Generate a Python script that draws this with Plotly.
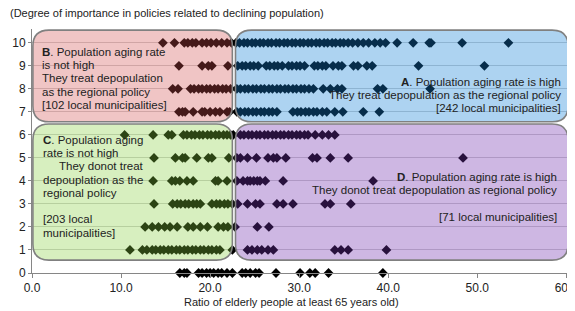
import plotly.graph_objects as go

# ---- data: x values (ratio of elderly, %) for each importance level 0..10 ----
row0 = [16.6, 17.1, 17.4, 18.7, 19.1, 19.6, 20.0, 20.4, 20.9, 21.3, 21.9, 22.5,
        23.6, 24.0, 24.5, 25.1, 25.5, 27.4, 30.1, 31.2, 31.8, 33.3, 39.4]
row1 = [11.0, 12.4, 12.9, 13.5, 13.9, 14.4, 14.8, 15.3, 15.7, 16.2, 16.6, 17.1, 17.5,
        18.0, 18.4, 18.9, 19.3, 19.8, 20.2, 20.7, 21.1, 22.5,
        24.2, 24.7, 25.3, 25.8, 26.5, 27.1, 34.0, 34.7, 35.5, 39.8]
row2 = [12.7, 13.5, 14.2, 14.9, 15.5, 16.3, 17.5, 18.1, 18.9, 19.7, 20.9, 21.5, 22.0,
        22.8, 25.3, 26.6]
row3 = [13.7, 15.8, 16.3, 16.7, 17.2, 17.6, 18.1, 18.5, 18.9, 20.2, 20.7, 21.1, 21.6,
        22.0, 22.5, 23.1, 24.2, 25.1, 25.6, 27.5, 28.2, 29.3, 32.9, 33.5, 35.8]
row4 = [13.6, 15.7, 16.1, 16.6, 17.4, 18.1, 20.6, 20.9, 21.9, 23.0, 23.7, 24.2, 24.5,
        24.9, 25.3, 25.6, 26.2, 28.2, 38.3]
row5 = [13.7, 16.1, 16.9, 17.2, 18.5, 19.8, 20.2, 22.1, 23.0, 23.4, 24.2, 25.2, 26.5,
        27.1, 27.5, 28.5, 31.5, 32.0, 33.5, 35.5, 48.4]
row6 = [10.4, 13.6, 15.3, 15.7, 17.0, 17.4, 17.9, 18.3, 18.8, 19.2, 19.7, 20.1, 20.6,
        21.0, 21.5, 21.9, 22.3, 22.6, 23.4, 23.8, 24.3, 24.7, 25.2, 25.6, 26.1, 26.5,
        27.0, 27.4, 27.9, 28.3, 28.8, 29.2, 29.7, 30.1, 30.6, 31.0, 31.8, 32.6, 33.3, 34.0]
row7 = [16.5, 16.9, 17.2, 18.1, 19.1, 19.4, 20.0, 20.6, 21.1, 21.9, 22.2,
        23.0, 23.4, 23.9, 24.3, 24.8, 25.2, 25.7, 26.1, 26.6, 27.0, 27.5,
        29.3, 29.8, 30.2, 30.7, 31.1, 31.6, 32.0, 32.6, 33.1, 34.0, 34.9, 37.2, 39.0]
row8 = [15.8, 16.4, 17.8, 18.2, 18.7, 19.1, 19.6, 20.0, 20.5, 20.9, 21.4, 21.8, 22.3,
        23.0, 23.4, 23.9, 24.3, 24.8, 25.2, 25.7, 26.1, 26.6, 27.0, 27.5, 27.9, 28.4,
        28.8, 29.3, 29.7, 30.2, 30.6, 31.1, 31.6, 32.7, 33.5, 34.3, 34.8, 38.8, 39.4, 44.7]
row9 = [16.5, 19.1, 19.8, 20.2, 22.0, 23.1, 23.6, 24.0, 24.5, 24.9, 25.4, 26.3, 26.7,
        27.2, 27.6, 28.1, 28.8, 29.2, 29.7, 30.1, 30.6, 31.7, 32.1, 32.6, 33.0, 33.8,
        34.4, 34.8, 36.1, 36.6, 37.6, 38.2, 43.4, 50.8]
row10 = [14.7, 16.0, 17.1, 17.5, 18.0, 18.4, 19.1, 19.6, 20.1, 20.7, 21.3, 21.9, 22.4,
         22.9, 23.3, 23.8, 24.2, 24.7, 25.1, 25.6, 26.0, 26.5, 26.9, 27.4, 27.8, 28.3,
         28.7, 29.2, 29.6, 30.1, 30.5, 31.0, 31.4, 31.9, 32.3, 32.8, 33.2, 33.7, 34.1,
         34.6, 35.0, 35.5, 36.0, 36.6, 37.2, 37.8, 38.5, 39.1, 39.7, 41.0, 42.8, 44.6,
         44.8, 48.3, 53.5]
levels = [0, 1, 2, 3, 4, 5, 6, 7, 8, 9, 10]
rows = [row0, row1, row2, row3, row4, row5, row6, row7, row8, row9, row10]

x_ticks = [0, 10, 20, 30, 40, 50, 60]
x_ticklabels = ["0.0", "10.0", "20.0", "30.0", "40.0", "50.0", "60.0"]

# region texts (one entry per line)
text_B = ["<b>B</b>. Population aging rate", "is not high", "They treat depopulation",
          "as the regional policy", "[102 local municipalities]"]
text_A = ["<b>A</b>. Population aging rate is high",
          "They treat depopulation as the regional policy", "[242 local municipalities]"]
text_C = ["<b>C</b>. Population aging", "rate is not high",
          "\u00a0\u00a0\u00a0\u00a0\u00a0They donot treat", "depouplation as the",
          "regional policy", "", "[203 local", "municipalities]"]
text_D = ["<b>D</b>. Population aging rate is high",
          "They donot treat depopulation as regional policy", "", "[71 local municipalities]"]

xs, ys = [], []
for lv, r in zip(levels, rows):
    xs += r
    ys += [lv] * len(r)

FONT = "Liberation Sans, Arial, sans-serif"
TXT = "#222222"

fig = go.Figure()
fig.add_trace(go.Scatter(
    x=xs, y=ys, mode="markers", cliponaxis=False,
    marker=dict(symbol="diamond", size=7.5, color="black"),
    showlegend=False, hoverinfo="skip",
))


def rrect(x0, x1, y0, y1, rx=1.8, ry=0.7):
    return (f"M {x0+rx},{y0} L {x1-rx},{y0} Q {x1},{y0} {x1},{y0+ry} "
            f"L {x1},{y1-ry} Q {x1},{y1} {x1-rx},{y1} L {x0+rx},{y1} "
            f"Q {x0},{y1} {x0},{y1-ry} L {x0},{y0+ry} Q {x0},{y0} {x0+rx},{y0} Z")


regions = [
    (0.1, 22.5, 6.57, 10.55, "rgba(210,80,80,0.33)"),    # B red
    (22.85, 60.2, 6.57, 10.55, "rgba(20,130,215,0.35)"),  # A blue
    (0.1, 22.5, 0.56, 6.47, "rgba(135,205,60,0.33)"),    # C green
    (22.85, 60.2, 0.56, 6.47, "rgba(115,50,175,0.35)"),  # D purple
]
shapes = []
for x0, x1, y0, y1, col in regions:
    shapes.append(dict(type="path", xref="x", yref="y", path=rrect(x0, x1, y0, y1),
                       fillcolor=col, line=dict(color="rgb(128,128,128)", width=1.6),
                       layer="above"))

tf = dict(family=FONT, size=11.5, color=TXT)
STEP = 0.575


def add_block(lines, x, y0, anchor):
    for i, t in enumerate(lines):
        if not t:
            continue
        fig.add_annotation(x=x, y=y0 - i * STEP, xref="x", yref="y", xanchor=anchor,
                           yanchor="middle", align=anchor, showarrow=False, font=tf, text=t)


add_block(text_B, 0.9, 9.61, "left")
add_block(text_A, 59.6, 8.30, "right")
add_block(text_C, 1.0, 5.78, "left")
add_block(text_D, 59.2, 4.17, "right")

fig.add_annotation(xref="paper", yref="paper", x=-0.0447, y=1.066, xanchor="left",
                   yanchor="middle", showarrow=False,
                   text="(Degree of importance in policies related to declining population)",
                   font=dict(family=FONT, size=11, color=TXT))
fig.add_annotation(xref="paper", yref="paper", x=0.483, y=-0.119, xanchor="center",
                   yanchor="middle", showarrow=False,
                   text="Ratio of elderly people at least 65 years old)",
                   font=dict(family=FONT, size=11, color=TXT))

# the page body adds an 8px offset; size the figure so the plot lands where the reference is
fig.update_layout(
    shapes=shapes,
    width=567, height=303,
    margin=dict(l=24, r=6, t=21, b=38),
    paper_bgcolor="white", plot_bgcolor="white",
    font=dict(family=FONT, size=12, color=TXT),
    xaxis=dict(range=[0, 60.3], tickmode="array", tickvals=x_ticks, ticktext=x_ticklabels,
               showgrid=False, zeroline=False, showline=True, linecolor="#868686",
               linewidth=1, ticks="outside", ticklen=4, tickcolor="#868686",
               tickfont=dict(size=12), automargin=False, ticklabeloverflow="allow"),
    yaxis=dict(range=[0, 10.6], tickmode="array", tickvals=levels,
               showgrid=True, gridcolor="#cfcfcf", gridwidth=1, zeroline=False,
               showline=True, linecolor="#868686", linewidth=1, ticks="outside",
               ticklen=3, tickcolor="#868686", tickfont=dict(size=12), automargin=False),
)

fig.write_html("out.html")
